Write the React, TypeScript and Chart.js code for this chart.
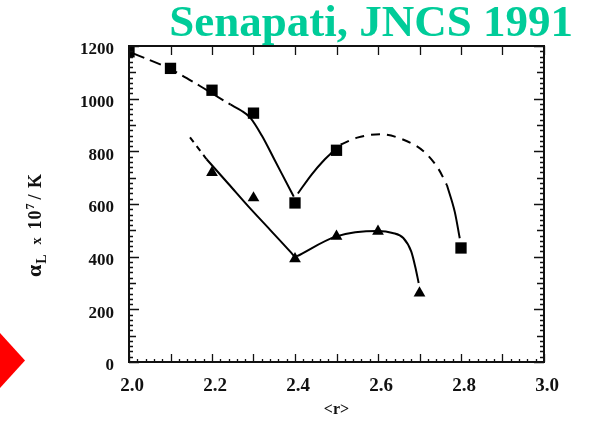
import React, { useEffect, useRef } from "react";
import { Chart, registerables } from "chart.js";

Chart.register(...registerables);

// Measured points
const squareX = [2.0, 2.1, 2.2, 2.3, 2.4, 2.5, 2.8];
const squareY = [1178, 1115, 1032, 945, 604, 804, 433];
const triangleX = [2.2, 2.3, 2.4, 2.5, 2.6, 2.7];
const triangleY = [719, 623, 392, 477, 496, 262];

// Hand-drawn guide curves
const sqCurve1X = [2.01, 2.1, 2.17, 2.229, 2.245];
const sqCurve1Y = [1172, 1112, 1049, 992, 977];
const sqCurve2X = [2.245, 2.27, 2.292, 2.32, 2.35, 2.388, 2.397];
const sqCurve2Y = [977, 955, 928, 860, 770, 655, 628];
const sqCurve3X = [2.407, 2.44, 2.472, 2.492];
const sqCurve3Y = [640, 712, 770, 800];
const sqCurve4X = [2.51, 2.55, 2.605, 2.66, 2.709, 2.745, 2.766];
const sqCurve4Y = [826, 852, 865, 845, 801, 735, 672];
const sqCurve5X = [2.766, 2.785, 2.797];
const sqCurve5Y = [672, 570, 470];
const triCurve1X = [2.147, 2.187];
const triCurve1Y = [853, 770];
const triCurve2X = [2.187, 2.24, 2.287, 2.34, 2.388, 2.398];
const triCurve2Y = [770, 676, 592, 502, 420, 402];
const triCurve3X = [2.405, 2.5, 2.6, 2.635, 2.661, 2.68, 2.69, 2.698];
const triCurve3Y = [402, 477, 497, 490, 471, 420, 360, 300];

// Axis ticks
const xTicks = [2.0, 2.2, 2.4, 2.6, 2.8, 3.0];
const yTicks = [0, 200, 400, 600, 800, 1000, 1200];

const titleText = "Senapati, JNCS 1991";
const xTitle = "<r>";

const zip = (xs: number[], ys: number[]) => xs.map((x, i) => ({ x, y: ys[i] }));

const curve = (xs: number[], ys: number[], dash: number[] = []) => ({
  data: zip(xs, ys),
  showLine: true,
  pointRadius: 0,
  borderColor: "#000",
  borderWidth: 2,
  borderDash: dash,
  cubicInterpolationMode: "monotone" as const,
  fill: false,
});

const framePlugin = {
  id: "frameTicks",
  afterDraw(chart: any) {
    const { ctx, chartArea } = chart;
    const { left, right, top, bottom } = chartArea;
    const xs = chart.scales.x;
    const ys = chart.scales.y;
    ctx.save();
    ctx.strokeStyle = "#111";
    ctx.lineWidth = 2;
    ctx.strokeRect(left, top, right - left, bottom - top);
    ctx.lineWidth = 1.3;
    ctx.beginPath();
    for (let v = 0; v <= 1200; v += 20) {
      const len = v % 200 === 0 ? 10 : v % 100 === 0 ? 7 : 4;
      const py = Math.round(ys.getPixelForValue(v)) + 0.5;
      ctx.moveTo(left, py);
      ctx.lineTo(left + len, py);
      ctx.moveTo(right, py);
      ctx.lineTo(right - len, py);
    }
    for (let i = 0; i <= 10; i++) {
      const px = Math.round(xs.getPixelForValue(2 + i / 10)) + 0.5;
      ctx.moveTo(px, bottom);
      ctx.lineTo(px, bottom - 8);
      ctx.moveTo(px, top);
      ctx.lineTo(px, top + 9);
    }
    for (let i = 0; i <= 50; i++) {
      const px = Math.round(xs.getPixelForValue(2 + i / 50)) + 0.5;
      ctx.moveTo(px, bottom);
      ctx.lineTo(px, bottom - 3);
    }
    ctx.stroke();
    ctx.restore();
  },
};

export default function App() {
  const canvasRef = useRef<HTMLCanvasElement | null>(null);

  useEffect(() => {
    if (!canvasRef.current) return;
    const chart = new Chart(canvasRef.current, {
      type: "scatter",
      data: {
        datasets: [
          curve(sqCurve1X, sqCurve1Y, [12, 6]),
          curve(sqCurve2X, sqCurve2Y),
          curve(sqCurve3X, sqCurve3Y),
          curve(sqCurve4X, sqCurve4Y, [9, 7]),
          curve(sqCurve5X, sqCurve5Y),
          curve(triCurve1X, triCurve1Y, [6, 5]),
          curve(triCurve2X, triCurve2Y),
          curve(triCurve3X, triCurve3Y),
          {
            data: zip(squareX, squareY),
            pointStyle: "rect",
            pointRadius: 8,
            backgroundColor: "#000",
            borderColor: "#000",
            borderWidth: 0,
            showLine: false,
          },
          {
            data: zip(triangleX, triangleY),
            pointStyle: "triangle",
            pointRadius: 6.8,
            backgroundColor: "#000",
            borderColor: "#000",
            borderWidth: 0,
            showLine: false,
          },
        ] as any,
      },
      options: {
        animation: false,
        responsive: false,
        layout: { padding: { left: 0, right: 50, top: 46, bottom: 0 } },
        plugins: {
          legend: { display: false },
          tooltip: { enabled: false },
          title: { display: false },
        },
        scales: {
          x: {
            type: "linear",
            min: 2.0,
            max: 3.0,
            afterBuildTicks: (s: any) => {
              s.ticks = xTicks.map((v) => ({ value: v }));
            },
            afterFit: (s: any) => {
              s.height = 61;
            },
            grid: { display: false, drawTicks: false },
            border: { display: false },
            ticks: {
              color: "#111",
              padding: 13,
              labelOffset: 3,
              maxRotation: 0,
              font: { family: "'Liberation Serif', serif", size: 19, weight: "bold" },
              callback: (v: any) => Number(v).toFixed(1),
            },
            title: {
              display: true,
              text: xTitle,
              color: "#111",
              padding: { top: 0, bottom: 4 },
              font: { family: "'Liberation Serif', serif", size: 16, weight: "bold" },
            },
          },
          y: {
            type: "linear",
            min: 0,
            max: 1200,
            afterBuildTicks: (s: any) => {
              s.ticks = yTicks.map((v) => ({ value: v }));
            },
            afterFit: (s: any) => {
              s.width = 129;
            },
            grid: { display: false, drawTicks: false },
            border: { display: false },
            ticks: {
              color: "#111",
              padding: 15,
              labelOffset: 4,
              font: { family: "'Liberation Serif', serif", size: 17, weight: "bold" },
              callback: (v: any) => String(v),
            },
          },
        },
      } as any,
      plugins: [framePlugin],
    });
    return () => chart.destroy();
  }, []);

  return (
    <div
      style={{
        position: "fixed",
        left: 0,
        top: 0,
        width: 594,
        height: 423,
        background: "#fff",
        overflow: "hidden",
      }}
    >
      <canvas
        ref={canvasRef}
        width={594}
        height={423}
        style={{ position: "absolute", left: 0, top: 0, width: 594, height: 423 }}
      />
      <div
        style={{
          position: "absolute",
          right: 21,
          top: -6,
          fontFamily: "'Liberation Serif', serif",
          fontWeight: "bold",
          fontSize: 45,
          color: "#00CC99",
          whiteSpace: "nowrap",
          lineHeight: "54px",
        }}
      >
        {titleText}
      </div>
      <div
        style={{
          position: "absolute",
          left: 36,
          top: 225,
          transform: "translate(-50%, -50%) rotate(-90deg)",
          fontFamily: "'Liberation Serif', serif",
          fontWeight: "bold",
          fontSize: 18,
          color: "#111",
          whiteSpace: "nowrap",
          lineHeight: "22px",
          letterSpacing: "1px",
        }}
      >
        <span style={{ fontSize: 22 }}>α</span>
        <sub style={{ fontSize: 14 }}>L</sub>
        <span style={{ fontSize: 14, marginLeft: 9, marginRight: 7 }}>x</span>
        <span>10</span>
        <sup style={{ fontSize: 12 }}>7</sup>
        <span style={{ marginLeft: 3 }}>/ K</span>
      </div>
      <div
        style={{
          position: "absolute",
          left: 0,
          top: 333,
          width: 25,
          height: 55,
          background: "#FF0000",
          clipPath: "polygon(0 0, 100% 50%, 0 100%)",
        }}
      />
    </div>
  );
}
